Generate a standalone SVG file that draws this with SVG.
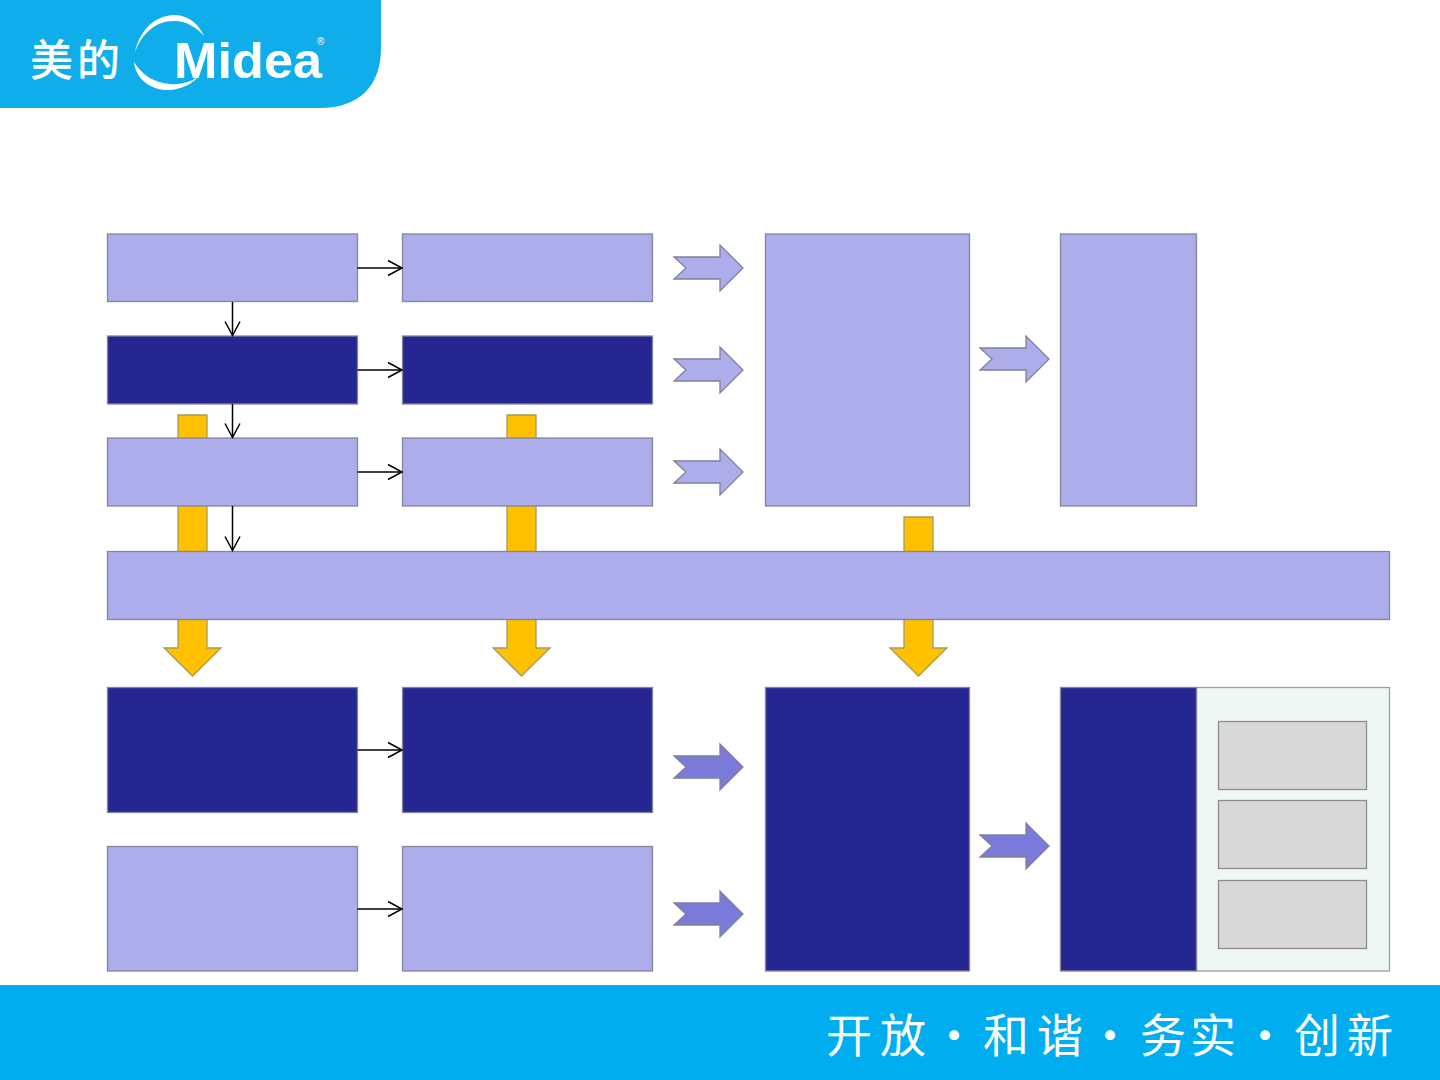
<svg xmlns="http://www.w3.org/2000/svg" width="1440" height="1080" viewBox="0 0 1440 1080">
<style>
.n{stroke:#85859a;stroke-width:1.3}
.l{fill:#ADADEB}
.d{fill:#262693}
.y{fill:#FFC000;stroke:#a89a5a;stroke-width:1.3}
.c{fill:none;stroke:#000;stroke-width:1.5;marker-end:url(#open)}
.a1{fill:#ADADEB;stroke:#80809a;stroke-width:1.3}
.a2{fill:#7A7ADB;stroke:#80809a;stroke-width:1.3}
.g{fill:#D8D8D8;stroke:#8a8f8a;stroke-width:1.3}
.foot{font-family:"Noto Sans CJK SC","Noto Sans CJK JP",sans-serif;font-size:46px;fill:#fff;font-weight:400}
.logo{font-family:"Liberation Sans",Arial,sans-serif;font-weight:700;fill:#fff}
</style>
<defs>
<marker id="open" markerUnits="userSpaceOnUse" markerWidth="20" markerHeight="20" refX="15" refY="9" orient="auto" overflow="visible">
<path d="M1,1.500 L15,9 L1,16.500" fill="none" stroke="#000" stroke-width="1.500"/>
</marker>
<polygon id="chev" points="0,-11 46,-11 46,-23 69,0 46,23 46,11 0,11 12,0"/>
</defs>
<rect width="1440" height="1080" fill="#fff"/>

<g id="logo">
<path d="M0,0H381V48C381,85 360,108 320,108H0Z" fill="#0FAEEB"/>
<text x="30" y="76" class="logo" font-size="43" style="font-family:'Noto Sans CJK SC',sans-serif;font-weight:500" textLength="90">美的</text>
<path d="M135,52C140,28 158,14 176,15C190,16 199,25 204,36C196,27 186,21 174,21C155,21 142,34 135,52Z" fill="#fff"/>
<path d="M134,62C136,80 152,91 170,90C182,89 192,84 198,77C190,82 180,85 170,84C154,83 141,74 134,62Z" fill="#fff"/>
<text x="174" y="78" class="logo" font-size="50" textLength="148" lengthAdjust="spacingAndGlyphs">Midea</text>
<text x="317" y="45" class="logo" font-size="10" style="font-weight:400">®</text>
</g>

<g id="footer">
<rect y="985" width="1440" height="95" fill="#00AEEF"/>
<text class="foot" y="1052" x="826 880">开放</text>
<text class="foot" y="1052" x="931">·</text>
<text class="foot" y="1052" x="983 1037">和谐</text>
<text class="foot" y="1052" x="1087">·</text>
<text class="foot" y="1052" x="1140 1190">务实</text>
<text class="foot" y="1052" x="1242">·</text>
<text class="foot" y="1052" x="1294 1347">创新</text>
</g>

<g id="flow-arrows">
<polygon id="down-1" class="y" points="178,415 207,415 207,648 221,648 192.500,676 164,648 178,648"/>
<polygon id="down-2" class="y" points="507,415 536,415 536,648 550,648 521.500,676 493,648 507,648"/>
<polygon id="down-3" class="y" points="904,517 933,517 933,648 947,648 918.500,676 890,648 904,648"/>
<use href="#chev" class="a1" x="674" y="268"/>
<use href="#chev" class="a1" x="674" y="370"/>
<use href="#chev" class="a1" x="674" y="472"/>
<use href="#chev" class="a1" x="980" y="359"/>
<use href="#chev" class="a2" x="674" y="767"/>
<use href="#chev" class="a2" x="674" y="914"/>
<use href="#chev" class="a2" x="980" y="846"/>
</g>

<g id="n1"><rect class="n l" x="107.500" y="234" width="250" height="67.500"/></g>
<g id="n2"><rect class="n l" x="402.500" y="234" width="250" height="67.500"/></g>
<g id="n3"><rect class="n d" x="107.500" y="336" width="250" height="68"/></g>
<g id="n4"><rect class="n d" x="402.500" y="336" width="250" height="68"/></g>
<g id="n5"><rect class="n l" x="107.500" y="438" width="250" height="68"/></g>
<g id="n6"><rect class="n l" x="402.500" y="438" width="250" height="68"/></g>
<g id="n7"><rect class="n l" x="765.500" y="234" width="204" height="272"/></g>
<g id="n8"><rect class="n l" x="1060.500" y="234" width="136" height="272"/></g>
<g id="n9"><rect class="n l" x="107.500" y="551.500" width="1282" height="68"/></g>
<g id="n10"><rect class="n d" x="107.500" y="687.500" width="250" height="125"/></g>
<g id="n11"><rect class="n d" x="402.500" y="687.500" width="250" height="125"/></g>
<g id="n12"><rect class="n l" x="107.500" y="846.500" width="250" height="124.500"/></g>
<g id="n13"><rect class="n l" x="402.500" y="846.500" width="250" height="124.500"/></g>
<g id="n14"><rect class="n d" x="765.500" y="687.500" width="204" height="283.500"/></g>
<g id="n15"><rect fill="#EEF7F3" stroke="#9aa09c" stroke-width="1.300" x="1196.500" y="687.500" width="193" height="283.500"/></g>
<g id="n16"><rect class="n d" x="1060.500" y="687.500" width="136" height="283.500"/></g>
<g id="n17"><rect class="g" x="1218.500" y="721.500" width="148" height="68"/></g>
<g id="n18"><rect class="g" x="1218.500" y="800.500" width="148" height="68"/></g>
<g id="n19"><rect class="g" x="1218.500" y="880.500" width="148" height="68"/></g>

<g id="connectors">
<path class="c" d="M357.500,268H402"/>
<path class="c" d="M357.500,370H402"/>
<path class="c" d="M357.500,472H402"/>
<path class="c" d="M357.500,750H402"/>
<path class="c" d="M357.500,909H402"/>
<path class="c" d="M232.500,302V335.500"/>
<path class="c" d="M232.500,404V437.500"/>
<path class="c" d="M232.500,506V550.500"/>
</g>
</svg>
